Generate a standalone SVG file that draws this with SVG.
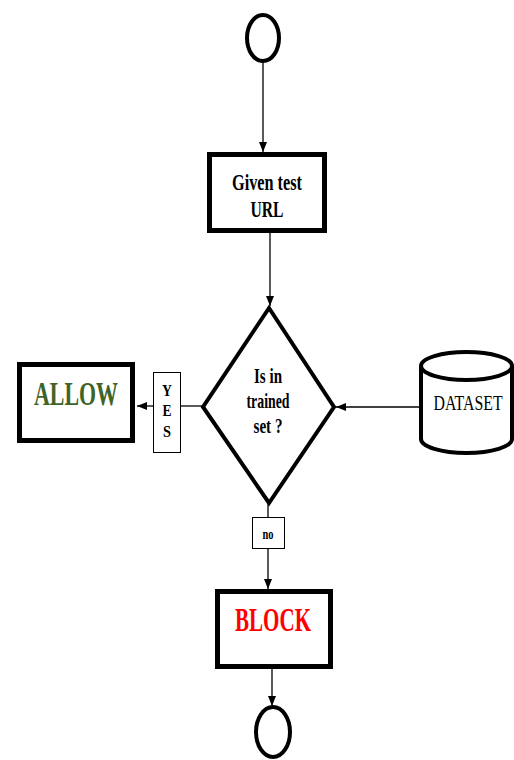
<svg xmlns="http://www.w3.org/2000/svg" width="514" height="760" viewBox="0 0 514 760">
  <defs>
    <marker id="arrow" markerWidth="10" markerHeight="10" viewBox="0 0 10 10" refX="10" refY="5" orient="auto" markerUnits="userSpaceOnUse">
      <path d="M0,1 L10,5 L0,9 Z" fill="#000"/>
    </marker>
  </defs>
  <style>
    .thick { fill: #fff; stroke: #000; stroke-width: 5; }
    .shape { fill: #fff; stroke: #000; stroke-width: 4; }
    .label { fill: #fff; stroke: #000; stroke-width: 1; }
    .conn { fill: none; stroke: #000; stroke-width: 1.3; }
    .serif { font-family: "Liberation Serif", "Times New Roman", serif; }
    .bold { font-weight: bold; }
    text { text-anchor: middle; }
  </style>
  <rect width="514" height="760" fill="#fff"/>

  <g id="connectors">
    <line class="conn" x1="263" y1="62" x2="263" y2="152" marker-end="url(#arrow)"/>
    <line class="conn" x1="270" y1="233" x2="270" y2="306" marker-end="url(#arrow)"/>
    <line class="conn" x1="421" y1="407" x2="336" y2="407" marker-end="url(#arrow)"/>
    <line class="conn" x1="203" y1="406" x2="181" y2="406"/>
    <line class="conn" x1="153" y1="406" x2="137" y2="406" marker-end="url(#arrow)"/>
    <line class="conn" x1="268" y1="503" x2="268" y2="517"/>
    <line class="conn" x1="268" y1="549" x2="268" y2="589" marker-end="url(#arrow)"/>
    <line class="conn" x1="272" y1="669" x2="272" y2="706" marker-end="url(#arrow)"/>
  </g>

  <g id="start">
    <ellipse class="shape" cx="263" cy="38" rx="16" ry="23"/>
  </g>

  <g id="input">
    <rect class="thick" x="209.5" y="154.5" width="115" height="76"/>
    <text class="serif bold" x="267" y="190" font-size="23" textLength="70" lengthAdjust="spacingAndGlyphs">Given test</text>
    <text class="serif bold" x="267" y="217" font-size="23" textLength="33" lengthAdjust="spacingAndGlyphs">URL</text>
  </g>

  <g id="decision">
    <polygon class="shape" points="269,308 334,407 269,503 203,407"/>
    <text class="serif bold" x="268" y="383" font-size="21" textLength="28" lengthAdjust="spacingAndGlyphs">Is in</text>
    <text class="serif bold" x="268" y="408" font-size="21" textLength="43" lengthAdjust="spacingAndGlyphs">trained</text>
    <text class="serif bold" x="268" y="433" font-size="21" textLength="29" lengthAdjust="spacingAndGlyphs">set  ?</text>
  </g>

  <g id="dataset">
    <path class="shape" d="M421,366 L421,439 A45.5,14 0 0 0 512,439 L512,366"/>
    <ellipse class="shape" cx="466.5" cy="366" rx="45.5" ry="14"/>
    <text class="serif" transform="translate(468,410) scale(0.72,1)" x="0" y="0" font-size="22">DATASET</text>
  </g>

  <g id="yes-label">
    <rect class="label" x="153.5" y="372.5" width="27" height="80"/>
    <text class="serif bold" x="167" y="396" font-size="17" textLength="10" lengthAdjust="spacingAndGlyphs">Y</text>
    <text class="serif bold" x="167" y="416" font-size="17" textLength="9" lengthAdjust="spacingAndGlyphs">E</text>
    <text class="serif bold" x="167" y="437" font-size="17" textLength="8" lengthAdjust="spacingAndGlyphs">S</text>
  </g>

  <g id="allow">
    <rect class="thick" x="19.5" y="364.5" width="113" height="76"/>
    <text class="serif bold" x="76" y="405" font-size="33" fill="#3f6428" textLength="84" lengthAdjust="spacingAndGlyphs">ALLOW</text>
  </g>

  <g id="no-label">
    <rect class="label" x="252.5" y="517.5" width="32" height="31"/>
    <text class="serif bold" x="268" y="539" font-size="15" textLength="11" lengthAdjust="spacingAndGlyphs">no</text>
  </g>

  <g id="block">
    <rect class="thick" x="217.5" y="591.5" width="113" height="75"/>
    <text class="serif bold" x="273" y="631" font-size="34" fill="#ff0000" textLength="76" lengthAdjust="spacingAndGlyphs">BLOCK</text>
  </g>

  <g id="end">
    <ellipse class="shape" cx="273" cy="732" rx="17" ry="25"/>
  </g>
</svg>
